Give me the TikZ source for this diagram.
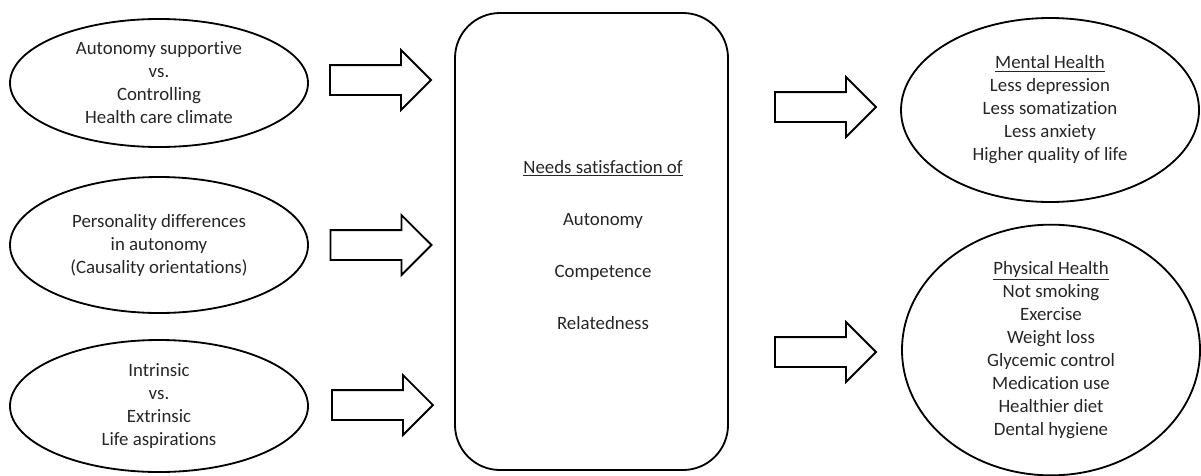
\documentclass[tikz,border=0pt]{standalone}
\usepackage{fontspec}
\setmainfont{Carlito}[Ligatures={NoCommon,NoContextual,NoRequired},Contextuals=NoAlternate]
\usetikzlibrary{shapes.geometric,shapes.arrows}
\newlength\upx
\setlength\upx{0.025cm}
\tikzset{
  every node/.style={font=\fontsize{13.4}{16.35}\selectfont, text=black!85},
  oval/.style={ellipse, draw, line width=1.3pt, minimum width=298\upx,
    inner sep=0pt, align=center},
  needsbox/.style={rectangle, rounded corners=45\upx, draw, line width=1.3pt,
    minimum width=273\upx, minimum height=457\upx},
  blockarrow/.style={single arrow, draw, line width=1.3pt, inner sep=0pt,
    minimum height=101\upx, minimum width=58\upx,
    single arrow head extend=15\upx, single arrow tip angle=90},
}
% the shaft thickness of a block arrow comes from this strut
\newcommand\shaft{\rule{0pt}{28\upx}}
\begin{document}
\begin{tikzpicture}[x=0.025cm, y=-0.025cm]
\useasboundingbox (0,0) rectangle (1201,475);

% determinants on the left
\node[oval, minimum height=128\upx] (climate) at (159,83)
  {Autonomy supportive\\vs.\\Controlling\\Health care climate};
\node[oval, minimum height=136\upx] (personality) at (159,245)
  {Personality differences\\in autonomy\\(Causality orientations)};
\node[oval, minimum height=132\upx] (aspirations) at (159,406)
  {Intrinsic\\vs.\\Extrinsic\\Life aspirations};

% central box: basic psychological needs
\node[needsbox] (needs) at (591.5,241.5) {};
\node[align=center] (needstext) at (603,245)
  {\underline{Needs satisfaction of}\\[20.6pt]Autonomy\\[20.6pt]Competence\\[20.6pt]Relatedness};

% outcomes on the right
\node[oval, minimum height=184\upx] (mental) at (1050,110)
  {\underline{Mental Health}\\Less depression\\Less somatization\\Less anxiety\\Higher quality of life};
\node[oval, minimum height=245\upx] (physical) at (1051,350)
  {\underline{Physical Health}\\Not smoking\\Exercise\\Weight loss\\Glycemic control\\Medication use\\Healthier diet\\Dental hygiene};

% block arrows
\node[blockarrow] (a1) at (373,80) {\shaft};
\node[blockarrow] (a2) at (373.5,245) {\shaft};
\node[blockarrow] (a3) at (375,405) {\shaft};
\node[blockarrow] (b1) at (818,107) {\shaft};
\node[blockarrow] (b2) at (818,352) {\shaft};
\end{tikzpicture}
\end{document}
